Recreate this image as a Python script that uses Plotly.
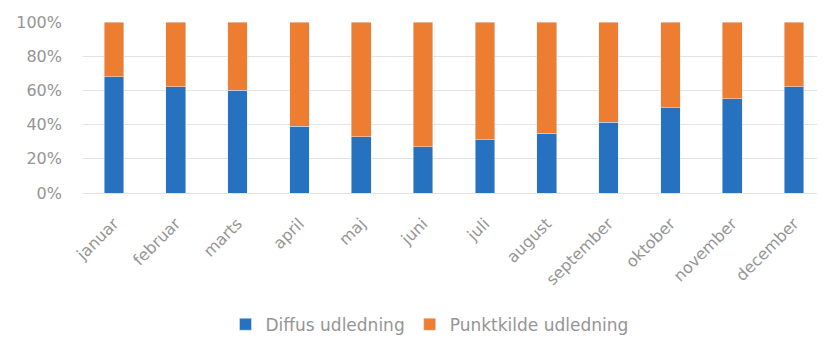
import plotly.graph_objects as go

months = ['januar', 'februar', 'marts', 'april', 'maj', 'juni', 'juli',
          'august', 'september', 'oktober', 'november', 'december']
diffus = [0.68, 0.62, 0.60, 0.39, 0.33, 0.27, 0.31, 0.35, 0.415, 0.50, 0.55, 0.62]
punktkilde = [round(1 - d, 3) for d in diffus]

fig = go.Figure()
fig.add_trace(go.Bar(x=months, y=diffus, name='Diffus udledning', marker_color='#2672C0'))
fig.add_trace(go.Bar(x=months, y=punktkilde, name='Punktkilde udledning', marker_color='#ED7D31'))

# page body has an 8px margin, so the figure is a bit smaller than the window
fig.update_layout(
    barmode='stack',
    bargap=0.68,
    width=817,
    height=329,
    margin=dict(l=75, r=0, t=14, b=144, autoexpand=False),
    plot_bgcolor='white',
    paper_bgcolor='white',
    font=dict(family='DejaVu Sans', size=16, color='#959595'),
    legend=dict(orientation='h', xref='paper', x=0.467, xanchor='center', y=-0.77,
                yanchor='middle', font=dict(size=17, color='#959595'),
                traceorder='normal', itemwidth=30),
)
fig.update_yaxes(range=[0, 1], tickformat='.0%', dtick=0.2, gridcolor='#e3e3e3',
                 zeroline=False, showline=False, ticks='', ticklabelstandoff=20,
                 automargin=False)
fig.update_xaxes(tickangle=-45, showline=True, linecolor='#e3e3e3', ticks='',
                 ticklabelstandoff=14, automargin=False)

fig.write_html("out.html")
